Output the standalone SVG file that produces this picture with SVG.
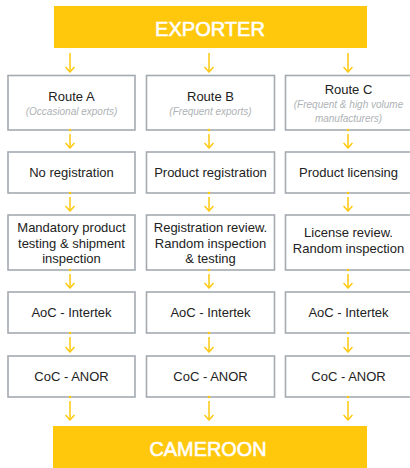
<svg xmlns="http://www.w3.org/2000/svg" width="410" height="468" viewBox="0 0 410 468">
<defs>
<style>
.box{fill:#fff;stroke:#A3ABB1;stroke-width:1.6}
.band{fill:#FFC80C}
.bt{font-family:"Liberation Sans",Arial,sans-serif;font-size:21px;fill:#fff;stroke:#fff;stroke-width:0.6;text-anchor:middle}
.t{font-family:"Liberation Sans",Arial,sans-serif;font-size:13px;fill:#222;text-anchor:middle}
.s{font-family:"Liberation Sans",Arial,sans-serif;font-size:10px;fill:#AEB2B5;text-anchor:middle;font-style:italic}
.ar{stroke:#FFC80C;stroke-width:1.5;fill:none}
.dot{fill:#FFC80C}
</style>
<marker id="ah" viewBox="0 0 10 10" refX="9" refY="5" markerWidth="10" markerHeight="10" markerUnits="userSpaceOnUse" orient="auto">
<path d="M4,0.5 L9,5 L4,9.5" stroke="#FFC80C" stroke-width="1.5" fill="none"/>
</marker>
</defs>
<g id="exporter"><rect class="band" x="54" y="6" width="313" height="42"/><text class="bt" x="210" y="36" textLength="110" lengthAdjust="spacingAndGlyphs">EXPORTER</text></g>
<g id="cameroon"><rect class="band" x="53" y="426" width="314" height="42"/><text class="bt" x="208" y="456" textLength="117" lengthAdjust="spacingAndGlyphs">CAMEROON</text></g>

<g id="routeA"><rect class="box" x="8" y="75.5" width="127" height="54.5"/><text class="t" x="71.5" y="101">Route A</text><text class="s" x="71.5" y="115">(Occasional exports)</text></g>
<g id="routeB"><rect class="box" x="146.5" y="75.5" width="128" height="54.5"/><text class="t" x="210.5" y="101">Route B</text><text class="s" x="210.5" y="115">(Frequent exports)</text></g>
<g id="routeC"><rect class="box" x="285.5" y="75.5" width="128" height="54.5"/><text class="t" x="348.5" y="94">Route C</text><text class="s" x="348.5" y="108">(Frequent &amp; high volume</text><text class="s" x="348.5" y="122">manufacturers)</text></g>

<g id="noReg"><rect class="box" x="8" y="152" width="127" height="41"/><text class="t" x="71.5" y="177">No registration</text></g>
<g id="prodReg"><rect class="box" x="146.5" y="152" width="128" height="41"/><text class="t" x="210.5" y="177">Product registration</text></g>
<g id="prodLic"><rect class="box" x="285.5" y="152" width="128" height="41"/><text class="t" x="348.5" y="177">Product licensing</text></g>

<g id="mandatory"><rect class="box" x="8" y="215" width="127" height="55"/><text class="t" x="71.5" y="232">Mandatory product</text><text class="t" x="71.5" y="247.5">testing &amp; shipment</text><text class="t" x="71.5" y="263">inspection</text></g>
<g id="regReview"><rect class="box" x="146.5" y="215" width="128" height="55"/><text class="t" x="210.5" y="232">Registration review.</text><text class="t" x="210.5" y="247.5">Random inspection</text><text class="t" x="210.5" y="263">&amp; testing</text></g>
<g id="licReview"><rect class="box" x="285.5" y="215" width="128" height="55"/><text class="t" x="348.5" y="237">License review.</text><text class="t" x="348.5" y="253">Random inspection</text></g>

<g id="aocA"><rect class="box" x="8" y="292" width="127" height="41"/><text class="t" x="71.5" y="317">AoC - Intertek</text></g>
<g id="aocB"><rect class="box" x="146.5" y="292" width="128" height="41"/><text class="t" x="210.5" y="317">AoC - Intertek</text></g>
<g id="aocC"><rect class="box" x="285.5" y="292" width="128" height="41"/><text class="t" x="348.5" y="317">AoC - Intertek</text></g>

<g id="cocA"><rect class="box" x="8" y="356" width="127" height="41"/><text class="t" x="71.5" y="381">CoC - ANOR</text></g>
<g id="cocB"><rect class="box" x="146.5" y="356" width="128" height="41"/><text class="t" x="210.5" y="381">CoC - ANOR</text></g>
<g id="cocC"><rect class="box" x="285.5" y="356" width="128" height="41"/><text class="t" x="348.5" y="381">CoC - ANOR</text></g>

<g id="connectors">
<path class="ar" marker-end="url(#ah)" d="M70,53 V72"/>
<path class="ar" marker-end="url(#ah)" d="M209,53 V72"/>
<path class="ar" marker-end="url(#ah)" d="M348,53 V72"/>
<g class="dot"><circle cx="70" cy="130" r="1.3"/><circle cx="209" cy="130" r="1.3"/><circle cx="348" cy="130" r="1.3"/>
<circle cx="70" cy="193" r="1.3"/><circle cx="209" cy="193" r="1.3"/><circle cx="348" cy="193" r="1.3"/>
<circle cx="70" cy="270" r="1.3"/><circle cx="209" cy="270" r="1.3"/><circle cx="348" cy="270" r="1.3"/>
<circle cx="70" cy="333" r="1.3"/><circle cx="209" cy="333" r="1.3"/><circle cx="348" cy="333" r="1.3"/>
<circle cx="70" cy="397" r="1.3"/><circle cx="209" cy="397" r="1.3"/><circle cx="348" cy="397" r="1.3"/></g>
<path class="ar" marker-end="url(#ah)" d="M70,134 V148"/>
<path class="ar" marker-end="url(#ah)" d="M209,134 V148"/>
<path class="ar" marker-end="url(#ah)" d="M348,134 V148"/>
<path class="ar" marker-end="url(#ah)" d="M70,197 V211"/>
<path class="ar" marker-end="url(#ah)" d="M209,197 V211"/>
<path class="ar" marker-end="url(#ah)" d="M348,197 V211"/>
<path class="ar" marker-end="url(#ah)" d="M70,274 V288"/>
<path class="ar" marker-end="url(#ah)" d="M209,274 V288"/>
<path class="ar" marker-end="url(#ah)" d="M348,274 V288"/>
<path class="ar" marker-end="url(#ah)" d="M70,337 V352"/>
<path class="ar" marker-end="url(#ah)" d="M209,337 V352"/>
<path class="ar" marker-end="url(#ah)" d="M348,337 V352"/>
<path class="ar" marker-end="url(#ah)" d="M70,401 V420"/>
<path class="ar" marker-end="url(#ah)" d="M209,401 V420"/>
<path class="ar" marker-end="url(#ah)" d="M348,401 V420"/>
</g>
</svg>
